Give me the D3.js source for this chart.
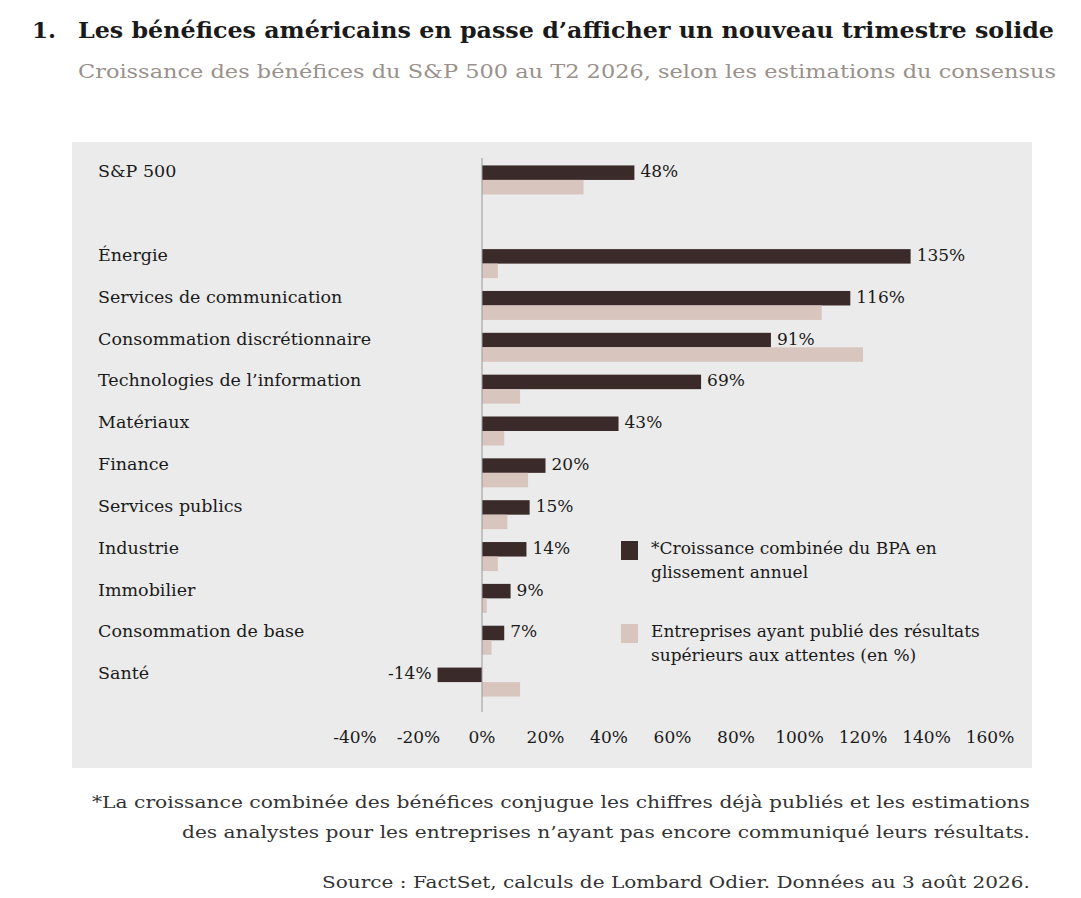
<!DOCTYPE html><html><head><meta charset="utf-8"><script src="https://cdn.jsdelivr.net/npm/d3@7"></script>
<style>body{margin:0;background:#fff}text{font-family:"DejaVu Serif","Liberation Serif",serif}</style></head><body>
<svg id="c" width="1081" height="898"></svg>
<script>
const categories=["S&P 500","","Énergie","Services de communication","Consommation discrétionnaire","Technologies de l’information","Matériaux","Finance","Services publics","Industrie","Immobilier","Consommation de base","Santé"];
const growth=[48,null,135,116,91,69,43,20,15,14,9,7,-14];
const beat=[32,null,5,107,120,12,7,14.5,8,5,1.5,3,12];
const ticks=[-40,-20,0,20,40,60,80,100,120,140,160];
const svg=d3.select("#c");
function fit(sel,w){sel.attr("textLength",w).attr("lengthAdjust","spacingAndGlyphs");return sel;}
svg.append("text").attr("x",32).attr("y",38).attr("font-size",23).attr("font-weight","bold").attr("fill","#1a1a1a").text("1.");
fit(svg.append("text").attr("x",78).attr("y",38).attr("font-size",23).attr("font-weight","bold").attr("fill","#1a1a1a").text("Les bénéfices américains en passe d’afficher un nouveau trimestre solide"),976);
fit(svg.append("text").attr("x",78).attr("y",78).attr("font-size",19).attr("fill","#9a918c").text("Croissance des bénéfices du S&P 500 au T2 2026, selon les estimations du consensus"),978);
svg.append("rect").attr("x",72).attr("y",142).attr("width",960).attr("height",626).attr("fill","#ebebeb");
const x=d3.scaleLinear().domain([-40,160]).range([355,990]);
const y=d3.scaleBand().domain(d3.range(categories.length)).range([159,703]);
const bh=14.5;
const g=svg.append("g");
categories.forEach((c,i)=>{
  if(!c)return;
  const yc=y(i)+y.bandwidth()/2;
  g.append("text").attr("x",98).attr("y",yc-bh/2).attr("font-size",17.5).attr("fill","#1a1a1a").attr("dominant-baseline","middle").text(c);
  const v=growth[i],b=beat[i];
  g.append("rect").attr("x",x(Math.min(0,v))).attr("y",yc-bh).attr("width",Math.abs(x(v)-x(0))).attr("height",bh).attr("fill","#3b2a2a");
  g.append("rect").attr("x",x(0)).attr("y",yc).attr("width",x(b)-x(0)).attr("height",bh).attr("fill","#d8c5be");
  const lx=v<0?x(v)-6:x(v)+6;
  g.append("text").attr("x",lx).attr("y",yc-bh/2).attr("dominant-baseline","middle").attr("text-anchor",v<0?"end":"start").attr("font-size",17).attr("fill","#1a1a1a").text(v+"%");
});
svg.append("line").attr("x1",x(0)).attr("x2",x(0)).attr("y1",158).attr("y2",712).attr("stroke","#999").attr("stroke-width",1);
ticks.forEach(t=>svg.append("text").attr("x",x(t)).attr("y",743).attr("text-anchor","middle").attr("font-size",17).attr("fill","#1a1a1a").text(t+"%"));
[[541,"#3b2a2a",["*Croissance combinée du BPA en","glissement annuel"]],[624,"#d8c5be",["Entreprises ayant publié des résultats","supérieurs aux attentes (en %)"]]].forEach(([yy,col,lines])=>{
  svg.append("rect").attr("x",621).attr("y",yy).attr("width",17).attr("height",19).attr("fill",col);
  lines.forEach((l,j)=>svg.append("text").attr("x",651).attr("y",yy+13+j*24).attr("font-size",17).attr("fill","#1a1a1a").text(l));
});
[["*La croissance combinée des bénéfices conjugue les chiffres déjà publiés et les estimations",808,938],["des analystes pour les entreprises n’ayant pas encore communiqué leurs résultats.",838,848],["Source : FactSet, calculs de Lombard Odier. Données au 3 août 2026.",888,708]].forEach(([t,yy,w])=>fit(svg.append("text").attr("x",1030-w).attr("y",yy).attr("font-size",17.5).attr("fill","#333").text(t),w));
</script></body></html>
